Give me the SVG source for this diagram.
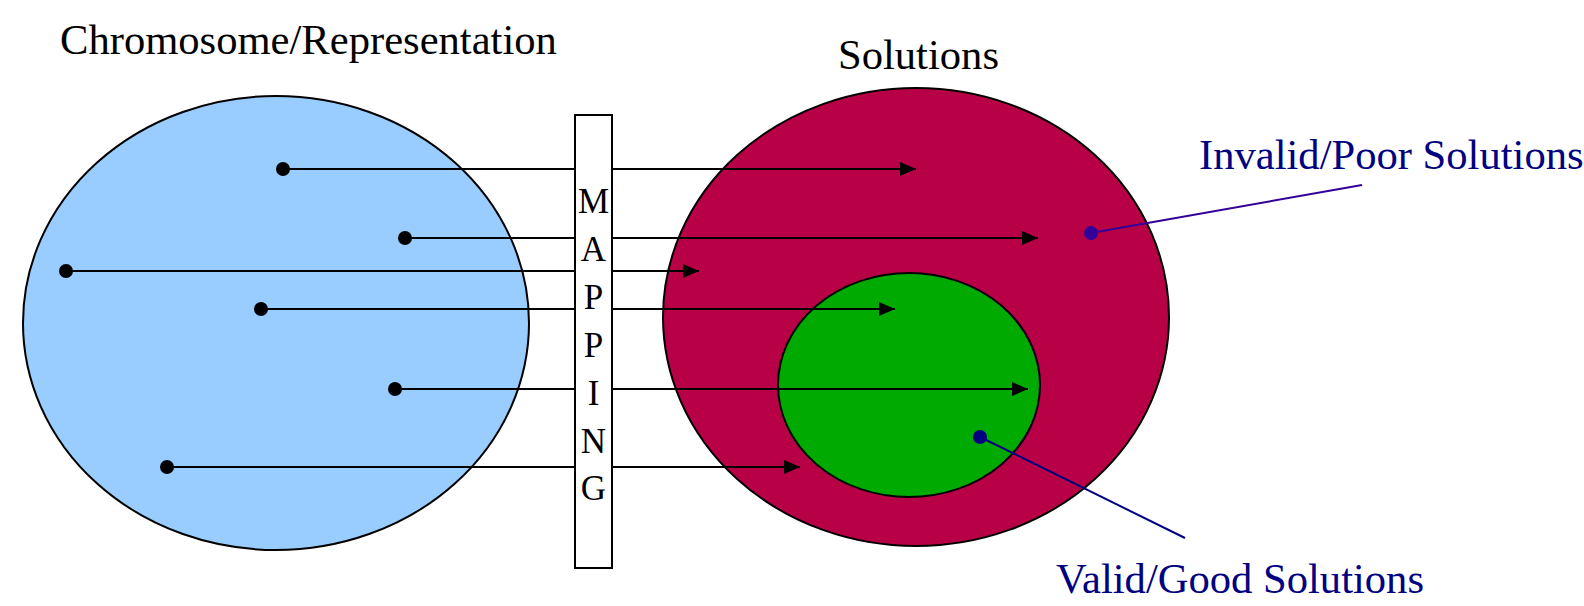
<svg xmlns="http://www.w3.org/2000/svg" width="1584" height="606" viewBox="0 0 1584 606">
<style>
.title{font-family:"Liberation Serif","Times New Roman",serif;font-size:42.6px;fill:#000}
.lbl{font-family:"Liberation Serif","Times New Roman",serif;font-size:42.6px;fill:#000080}
.map{font-family:"Liberation Serif","Times New Roman",serif;font-size:35px;fill:#000;text-anchor:middle}
.ell{stroke:#000;stroke-width:2}
.conn{stroke:#000;stroke-width:2;fill:none;marker-end:url(#arr)}
.dot{fill:#000}
</style>
<defs>
<marker id="arr" markerUnits="userSpaceOnUse" markerWidth="18" markerHeight="16" refX="16" refY="7" orient="auto">
<path d="M0,0 L16,7 L0,14 Z" fill="#000"/>
</marker>
</defs>
<g id="titles">
<text class="title" x="60" y="54">Chromosome/Representation</text>
<text class="title" x="838" y="69">Solutions</text>
</g>
<g id="chromosome">
<ellipse class="ell" cx="276" cy="323" rx="253" ry="227" fill="#99CCFF"/>
</g>
<g id="solutions">
<ellipse class="ell" cx="916" cy="317" rx="253" ry="229" fill="#B80046"/>
</g>
<g id="valid">
<ellipse class="ell" cx="909" cy="385" rx="131" ry="112" fill="#00AA00"/>
</g>
<g id="connectors">
<line class="conn" x1="283" y1="169" x2="916" y2="169"/>
<line class="conn" x1="405" y1="238" x2="1038" y2="238"/>
<line class="conn" x1="66" y1="271" x2="699" y2="271"/>
<line class="conn" x1="261" y1="309" x2="895" y2="309"/>
<line class="conn" x1="395" y1="389" x2="1028" y2="389"/>
<line class="conn" x1="167" y1="467" x2="800" y2="467"/>
<circle class="dot" cx="283" cy="169" r="7"/>
<circle class="dot" cx="405" cy="238" r="7"/>
<circle class="dot" cx="66" cy="271" r="7"/>
<circle class="dot" cx="261" cy="309" r="7"/>
<circle class="dot" cx="395" cy="389" r="7"/>
<circle class="dot" cx="167" cy="467" r="7"/>
</g>
<g id="mapping">
<rect x="575" y="115" width="37" height="453" fill="#fff" stroke="#000" stroke-width="2"/>
<text class="map" x="593.5" y="213">M</text>
<text class="map" x="593.5" y="261">A</text>
<text class="map" x="593.5" y="309">P</text>
<text class="map" x="593.5" y="357">P</text>
<text class="map" x="593.5" y="405">I</text>
<text class="map" x="593.5" y="453">N</text>
<text class="map" x="593.5" y="500">G</text>
</g>
<g id="invalid-label">
<line x1="1091" y1="233" x2="1362" y2="185" stroke="#330099" stroke-width="2"/>
<circle cx="1091" cy="233" r="7" fill="#330099"/>
<text class="lbl" x="1199" y="169">Invalid/Poor Solutions</text>
</g>
<g id="valid-label">
<line x1="980" y1="437" x2="1185" y2="538" stroke="#000080" stroke-width="2"/>
<circle cx="980" cy="437" r="7" fill="#000080"/>
<text class="lbl" x="1056" y="593">Valid/Good Solutions</text>
</g>
</svg>
